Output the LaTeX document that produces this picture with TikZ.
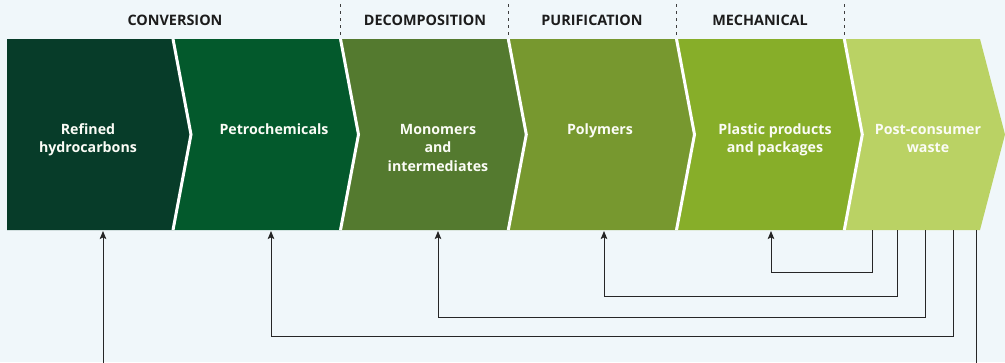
\documentclass[tikz,border=0pt]{standalone}
\usepackage{fontspec}
\setmainfont{Open Sans}
\usetikzlibrary{arrows.meta}
\definecolor{bg}{HTML}{F0F7FA}
\definecolor{cA}{HTML}{073C29}
\definecolor{cB}{HTML}{03592C}
\definecolor{cC}{HTML}{547A2F}
\definecolor{cD}{HTML}{77982F}
\definecolor{cE}{HTML}{87AE29}
\definecolor{cF}{HTML}{BAD264}
\definecolor{ink}{HTML}{1C1C1C}
\definecolor{wire}{HTML}{262626}
\tikzset{
  sep/.style={draw=white, line width=3pt},
  hdr/.style={font=\bfseries\fontsize{14.4}{17}\selectfont, text=ink, inner sep=0pt},
  lbl/.style={font=\bfseries\fontsize{14.2}{18.5}\selectfont, text=white!94!cF, align=center, inner sep=0pt, anchor=base},
  divider/.style={draw=ink!85, line width=0.9pt, dash pattern=on 3pt off 4pt},
  flow/.style={draw=wire, line width=1pt, -{Stealth[length=8pt,width=6.5pt,inset=1.5pt]}},
}
\begin{document}
\begin{tikzpicture}[x=1pt,y=-1pt]
\fill[bg] (0,0) rectangle (1005,362);
\useasboundingbox (0,0) rectangle (1005,362);
\clip (0,0) rectangle (1005,362);
% chevrons
\fill[cA] (7,39) -- (173,39) -- (191,134.5) -- (173,230) -- (7,230) -- cycle;
\fill[cB] (173,39) -- (340.5,39) -- (358.5,134.5) -- (340.5,230) -- (173,230) -- (191,134.5) -- cycle;
\fill[cC] (340.5,39) -- (508.3,39) -- (526.3,134.5) -- (508.3,230) -- (340.5,230) -- (358.5,134.5) -- cycle;
\fill[cD] (508.3,39) -- (676.5,39) -- (694.5,134.5) -- (676.5,230) -- (508.3,230) -- (526.3,134.5) -- cycle;
\fill[cE] (676.5,39) -- (844.3,39) -- (862.3,134.5) -- (844.3,230) -- (676.5,230) -- (694.5,134.5) -- cycle;
\fill[cF] (844.3,39) -- (980,39) -- (1005,134.5) -- (980,230) -- (844.3,230) -- (862.3,134.5) -- cycle;
% separators
\draw[sep] (173,39) -- (191,134.5) -- (173,230);
\draw[sep] (340.5,39) -- (358.5,134.5) -- (340.5,230);
\draw[sep] (508.3,39) -- (526.3,134.5) -- (508.3,230);
\draw[sep] (676.5,39) -- (694.5,134.5) -- (676.5,230);
\draw[sep] (844.3,39) -- (862.3,134.5) -- (844.3,230);
% dividers
\draw[divider] (340.5,4) -- (340.5,37);
\draw[divider] (508.3,4) -- (508.3,37);
\draw[divider] (676.5,4) -- (676.5,37);
\draw[divider] (844.3,4) -- (844.3,37);
% headers
\node[hdr] (h1) at (175,20) {CONVERSION};
\node[hdr] (h2) at (425,20) {DECOMPOSITION};
\node[hdr] (h3) at (592,20) {PURIFICATION};
\node[hdr] (h4) at (760,20) {MECHANICAL};
% labels (anchor = baseline of last line; first line baseline at y=134)
\node[lbl] (l1) at (88,152.5) {Refined\\hydrocarbons};
\node[lbl] (l2) at (274,134) {Petrochemicals};
\node[lbl] (l3) at (438,171) {Monomers\\and\\intermediates};
\node[lbl] (l4) at (600,134) {Polymers};
\node[lbl] (l5) at (775,152.5) {Plastic products\\and packages};
\node[lbl] (l6) at (928,152.5) {Post-consumer\\waste};
% connector ends
\coordinate (w1) at (872,230);
\coordinate (w2) at (897.7,230);
\coordinate (w3) at (925.7,230);
\coordinate (w4) at (953,230);
\coordinate (w5) at (976.7,230);
\coordinate (i1) at (103,231);
\coordinate (i2) at (271,231);
\coordinate (i3) at (438,231);
\coordinate (i4) at (604,231);
\coordinate (i5) at (771,231);
\draw[flow] (w1) -- (w1 |- 0,272) -| (i5);
\draw[flow] (w2) -- (w2 |- 0,296) -| (i4);
\draw[flow] (w3) -- (w3 |- 0,317) -| (i3);
\draw[flow] (w4) -- (w4 |- 0,336.7) -| (i2);
\draw[flow] (w5) -- (w5 |- 0,380) -| (i1);
\end{tikzpicture}
\end{document}
